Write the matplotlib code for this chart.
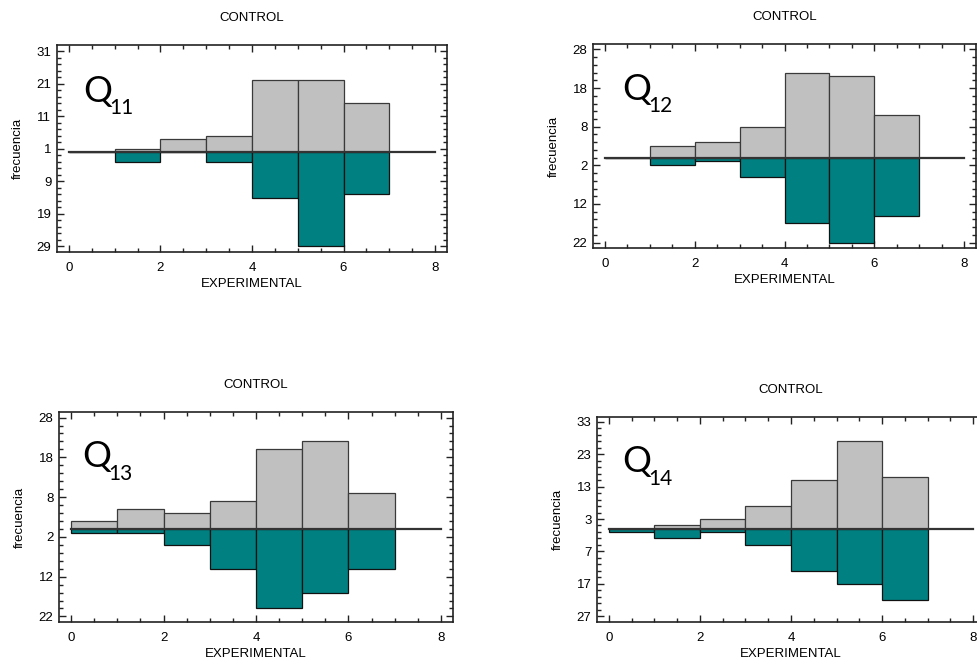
import numpy as np
import matplotlib
matplotlib.use("Agg")
import matplotlib.pyplot as plt
from matplotlib.ticker import FixedLocator, MultipleLocator, FuncFormatter

plt.rcParams['font.family'] = ['Liberation Sans', 'DejaVu Sans']

# left edges of the histogram classes
bins = [0, 1, 2, 3, 4, 5, 6]

# frequencies (control up, experimental down)
control_q11 = [0, 1, 4, 5, 22, 22, 15]
exper_q11 = [0, 3, 0, 3, 14, 29, 13]
control_q12 = [0, 3, 4, 8, 22, 21, 11]
exper_q12 = [0, 2, 1, 5, 17, 22, 15]
control_q13 = [2, 5, 4, 7, 20, 22, 9]
exper_q13 = [1, 1, 4, 10, 20, 16, 10]
control_q14 = [0, 1, 3, 7, 15, 27, 16]
exper_q14 = [1, 3, 1, 5, 13, 17, 22]

names = ["11", "12", "13", "14"]
controls = [control_q11, control_q12, control_q13, control_q14]
expers = [exper_q11, exper_q12, exper_q13, exper_q14]

W, H = 977, 666
# axes boxes in pixels: left, top, right, bottom
boxes = [(57, 45, 447, 252), (593, 44, 976, 248),
         (59, 412, 453, 622), (597, 417, 985, 622)]
ylims = [(-30.7, 32.9), (-23.4, 29.4), (-23.4, 29.4), (-28.8, 34.5)]
ystart = [-29, -22, -22, -27]
qpos = [(0.067, 0.725), (0.076, 0.727), (0.058, 0.738), (0.065, 0.731)]

fig = plt.figure(figsize=(W / 100, H / 100), dpi=100)

for k in range(4):
    l, t, r, b = boxes[k]
    ax = fig.add_axes([l / W, 1 - b / H, (r - l) / W, (b - t) / H])
    ax.bar(bins, controls[k], width=1, align='edge', color='#c0c0c0',
           edgecolor='#3a3a3a', linewidth=0.9, zorder=2)
    ax.bar(bins, [-v for v in expers[k]], width=1, align='edge', color='#008080',
           edgecolor='#111111', linewidth=0.9, zorder=2)
    ax.plot([0, 8], [0, 0], color='#333333', lw=1.6, zorder=3)

    ax.set_xlim(-0.26, 8.26)
    ax.set_ylim(*ylims[k])
    ax.xaxis.set_major_locator(FixedLocator([0, 2, 4, 6, 8]))
    ax.xaxis.set_minor_locator(MultipleLocator(0.5))
    yt = np.arange(ystart[k], ylims[k][1], 10)
    ax.yaxis.set_major_locator(FixedLocator(yt))
    ax.yaxis.set_minor_locator(FixedLocator(np.arange(ystart[k], ylims[k][1], 2)))
    ax.yaxis.set_major_formatter(FuncFormatter(lambda v, p: '%d' % abs(round(v))))
    ax.tick_params(which='both', direction='in', top=True, right=True,
                   labelsize=9.5, width=1, color='#222222')
    ax.tick_params(which='major', length=5)
    ax.tick_params(axis='x', which='major', pad=7)
    ax.tick_params(axis='y', which='major', pad=4)
    ax.tick_params(which='minor', length=3)
    for s in ax.spines.values():
        s.set_linewidth(1.2)
        s.set_color('#222222')

    ax.set_xlabel('EXPERIMENTAL', fontsize=9.5, labelpad=3)
    ax.set_ylabel('frecuencia', fontsize=9.5, labelpad=9)
    ax.set_title('CONTROL', fontsize=9.5, pad=17)

    qx, qy = qpos[k]
    ax.text(qx, qy, 'Q', transform=ax.transAxes, fontsize=26, family='Lato',
            va='baseline', ha='left', zorder=5)
    ax.annotate(names[k], xy=(qx, qy), xycoords='axes fraction',
                xytext=(19, -9), textcoords='offset points', fontsize=15,
                family='Lato', va='baseline', ha='left', zorder=5)

fig.savefig('out.png', dpi=100)
